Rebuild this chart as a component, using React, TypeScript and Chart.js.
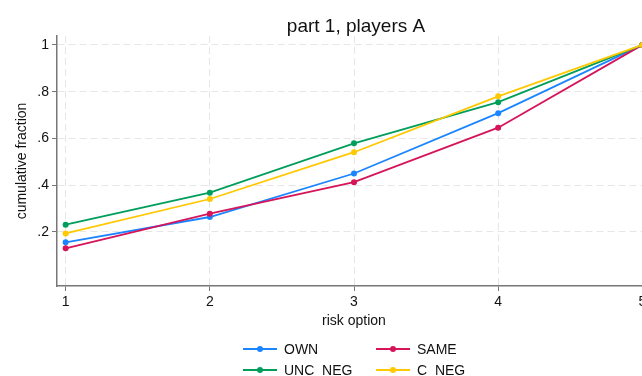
import React, { useEffect, useRef } from "react";
import { Chart, registerables } from "chart.js";

Chart.register(...registerables);

const riskOptions = [1, 2, 3, 4, 5];
const seriesNames = ["OWN", "SAME", "UNC_NEG", "C_NEG"];
const seriesColors = ["#1a85ff", "#d5145a", "#009e5c", "#ffc800"];
const ownValues = [0.156, 0.264, 0.45, 0.708, 1];
const sameValues = [0.13, 0.278, 0.413, 0.646, 1];
const uncNegValues = [0.231, 0.368, 0.579, 0.755, 1];
const cNegValues = [0.194, 0.341, 0.541, 0.78, 1];
const yTicks = [0.2, 0.4, 0.6, 0.8, 1];
const xTicks = [1, 2, 3, 4, 5];
const titleText = "part 1, players A";

const FONT = "'Liberation Sans', Arial, sans-serif";

const legendPlugin = {
  id: "gridLegend",
  afterDraw(chart: any) {
    const ctx = chart.ctx;
    const ds = chart.data.datasets;
    const cols = [243, 376];
    const rows = [349, 370];
    ctx.save();
    // title
    ctx.font = `19px ${FONT}`;
    ctx.fillStyle = "#111";
    ctx.textAlign = "center";
    ctx.textBaseline = "alphabetic";
    ctx.fillText(titleText, 356, 31.5);
    // legend
    ctx.font = `14px ${FONT}`;
    ctx.textBaseline = "middle";
    ctx.textAlign = "left";
    ds.forEach((d: any, i: number) => {
      const x = cols[i % 2];
      const y = rows[Math.floor(i / 2)];
      ctx.strokeStyle = d.borderColor;
      ctx.lineWidth = 1.8;
      ctx.beginPath();
      ctx.moveTo(x, y);
      ctx.lineTo(x + 34, y);
      ctx.stroke();
      ctx.fillStyle = d.borderColor;
      ctx.beginPath();
      ctx.arc(x + 17, y, 3, 0, Math.PI * 2);
      ctx.fill();
      ctx.fillStyle = "#111";
      ctx.fillText(d.label, x + 41, y + 1);
    });
    ctx.restore();
  },
};

export default function App() {
  const ref = useRef<HTMLCanvasElement>(null);
  useEffect(() => {
    document.body.style.margin = "0";
    document.documentElement.style.overflow = "hidden";
    const values = [ownValues, sameValues, uncNegValues, cNegValues];
    const gridOpts = {
      color: "#e6e6e6",
      tickBorderDash: [],
      tickColor: "#777",
      tickLength: 5,
      lineWidth: 1,
    };
    const chart = new Chart(ref.current!, {
      type: "line",
      data: {
        datasets: values.map((v, i) => ({
          label: seriesNames[i],
          data: riskOptions.map((x, j) => ({ x, y: v[j] })),
          borderColor: seriesColors[i],
          backgroundColor: seriesColors[i],
          pointBackgroundColor: seriesColors[i],
          pointBorderWidth: 0,
          pointRadius: 3,
          borderWidth: 1.8,
          order: 4 - i,
          tension: 0,
        })),
      },
      plugins: [legendPlugin],
      options: {
        responsive: false,
        animation: false,
        clip: false as any,
        layout: { padding: { left: 0, right: 61, top: 36, bottom: 45 } },
        plugins: {
          legend: { display: false },
          tooltip: { enabled: false },
          title: { display: false },
        },
        scales: {
          x: {
            type: "linear",
            min: 0.94,
            max: 5.06,
            afterBuildTicks: (s: any) => {
              s.ticks = xTicks.map((v) => ({ value: v }));
            },
            afterFit: (s: any) => {
              s.height = 45;
            },
            ticks: {
              color: "#111",
              font: { family: FONT, size: 14 },
              padding: 3,
              maxRotation: 0,
              callback: (v: any) => String(v),
            },
            grid: gridOpts,
            border: { color: "#777", width: 1.5, dash: [7, 4] },
            title: {
              display: true,
              text: "risk option",
              color: "#111",
              font: { family: FONT, size: 14 },
              padding: { top: 0, bottom: 1.6 },
            },
          },
          y: {
            type: "linear",
            min: -0.031,
            max: 1.038,
            afterBuildTicks: (s: any) => {
              s.ticks = yTicks.map((v) => ({ value: v }));
            },
            afterFit: (s: any) => {
              s.width = 57;
            },
            ticks: {
              color: "#111",
              font: { family: FONT, size: 14 },
              padding: 3,
              callback: (v: any) => {
                const n = Number(v);
                if (n === 1) return "1";
                return n.toFixed(1).replace(/^0/, "");
              },
            },
            grid: gridOpts,
            border: { color: "#777", width: 1.5, dash: [7, 4] },
            title: {
              display: true,
              text: "cumulative fraction",
              color: "#111",
              font: { family: FONT, size: 14 },
              padding: { top: 13.6, bottom: 0 },
            },
          },
        },
      },
    } as any);
    return () => chart.destroy();
  }, []);
  return (
    <div style={{ position: "fixed", left: 0, top: 0, width: 712, height: 376 }}>
      <canvas ref={ref} width={712} height={376} />
    </div>
  );
}
